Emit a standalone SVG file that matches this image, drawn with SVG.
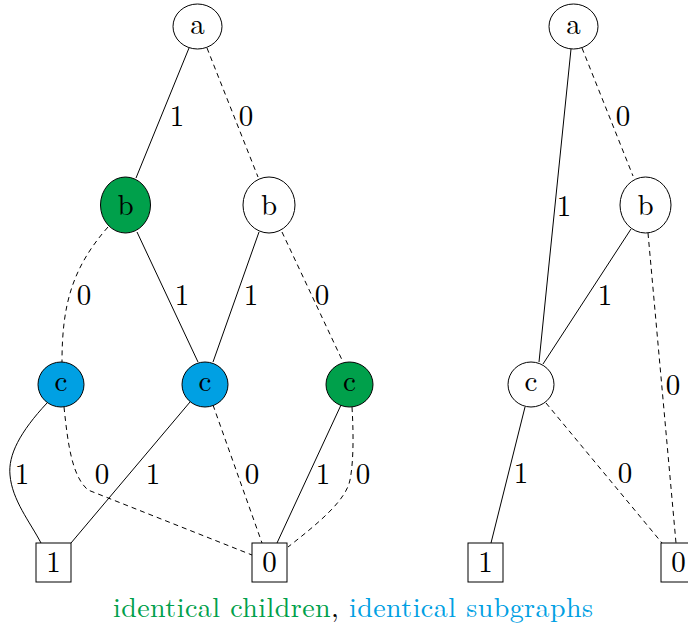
<svg xmlns="http://www.w3.org/2000/svg" width="688" height="628" viewBox="0 0 688 628">
  <style>
    .node { stroke: #000; stroke-width: 1; fill: #fff; }
    .green { fill: #00A04B; }
    .blue { fill: #00A0E3; }
    .edge { fill: none; stroke: #000; stroke-width: 1; }
    .zero { stroke-dasharray: 5 4; }
  </style>
  <rect width="688" height="628" fill="#fff"/>

  <!-- connectors: solid = 1-edge, dashed = 0-edge -->
  <g id="connectors">
    <!-- left diagram -->
    <path class="edge" d="M189,48 L136,178"/>
    <path class="edge zero" d="M207,48 L258,177"/>
    <path class="edge zero" d="M108,227 C72,268 62,305 62,362"/>
    <path class="edge" d="M137,232 L198,362"/>
    <path class="edge" d="M259,232 L213,362"/>
    <path class="edge zero" d="M282,232 L343,362"/>
    <path class="edge" d="M47,403 C20,432 8,455 10,475 C12,500 30,522 41,543"/>
    <path class="edge zero" d="M64,407 C68,445 72,476 88,490 L252,555"/>
    <path class="edge" d="M190,402 L71,543"/>
    <path class="edge zero" d="M213,405 L262,543"/>
    <path class="edge" d="M341,405 L277,543"/>
    <path class="edge zero" d="M352,407 C354,440 353,465 350,480 C346,500 320,522 288,547"/>
    <!-- right diagram -->
    <path class="edge" d="M571,49 L539,362"/>
    <path class="edge zero" d="M582,48 L633,176"/>
    <path class="edge" d="M631,229 L543,364"/>
    <path class="edge zero" d="M648,233 L676,543"/>
    <path class="edge" d="M525,407 L491,543"/>
    <path class="edge zero" d="M546,403 L662,543"/>
  </g>

  <g font-family="Latin Modern Roman, Liberation Serif, serif" font-size="29" text-anchor="middle" fill="#000">
    <!-- edge labels -->
    <g id="edge-labels">
      <text x="177" y="126">1</text>
      <text x="246" y="126">0</text>
      <text x="84" y="305">0</text>
      <text x="182" y="305">1</text>
      <text x="251" y="305">1</text>
      <text x="322" y="305">0</text>
      <text x="22" y="484">1</text>
      <text x="102" y="484">0</text>
      <text x="153" y="484">1</text>
      <text x="252" y="484">0</text>
      <text x="323" y="484">1</text>
      <text x="363" y="484">0</text>
      <text x="623" y="126">0</text>
      <text x="564" y="216">1</text>
      <text x="605" y="305">1</text>
      <text x="673" y="395">0</text>
      <text x="521" y="483">1</text>
      <text x="625" y="483">0</text>
    </g>

    <!-- left diagram nodes -->
    <g id="L-a"><ellipse class="node" cx="197.5" cy="26.5" rx="24.5" ry="22.5"/><text x="197.5" y="34">a</text></g>
    <g id="L-b1"><ellipse class="node green" cx="125.5" cy="205" rx="25" ry="28"/><text x="125.5" y="215">b</text></g>
    <g id="L-b2"><ellipse class="node" cx="269" cy="205" rx="26" ry="28"/><text x="269" y="215">b</text></g>
    <g id="L-c1"><ellipse class="node blue" cx="61" cy="384.5" rx="23" ry="22.5"/><text x="61" y="391">c</text></g>
    <g id="L-c2"><ellipse class="node blue" cx="205" cy="384.5" rx="23" ry="22.5"/><text x="205" y="391">c</text></g>
    <g id="L-c3"><ellipse class="node green" cx="349.5" cy="384.5" rx="23.5" ry="22.5"/><text x="349.5" y="391">c</text></g>
    <g id="L-one"><rect class="node" x="36" y="543" width="35" height="39"/><text x="53.5" y="572">1</text></g>
    <g id="L-zero"><rect class="node" x="252" y="543" width="35" height="39"/><text x="269.5" y="572">0</text></g>

    <!-- right diagram nodes -->
    <g id="R-a"><ellipse class="node" cx="573.5" cy="26.5" rx="24.5" ry="22.5"/><text x="573.5" y="34">a</text></g>
    <g id="R-b"><ellipse class="node" cx="645.5" cy="205" rx="25.5" ry="28"/><text x="645.5" y="215">b</text></g>
    <g id="R-c"><ellipse class="node" cx="531" cy="384.5" rx="23" ry="22.5"/><text x="531" y="391">c</text></g>
    <g id="R-one"><rect class="node" x="468" y="543" width="35" height="39"/><text x="485.5" y="572">1</text></g>
    <g id="R-zero"><rect class="node" x="661" y="543" width="35" height="39"/><text x="678.5" y="572">0</text></g>

    <!-- caption -->
    <text x="353" y="617" font-size="28" textLength="480" lengthAdjust="spacing"><tspan fill="#00A04B">identical children</tspan>, <tspan fill="#00A0E3">identical subgraphs</tspan></text>
  </g>
</svg>
